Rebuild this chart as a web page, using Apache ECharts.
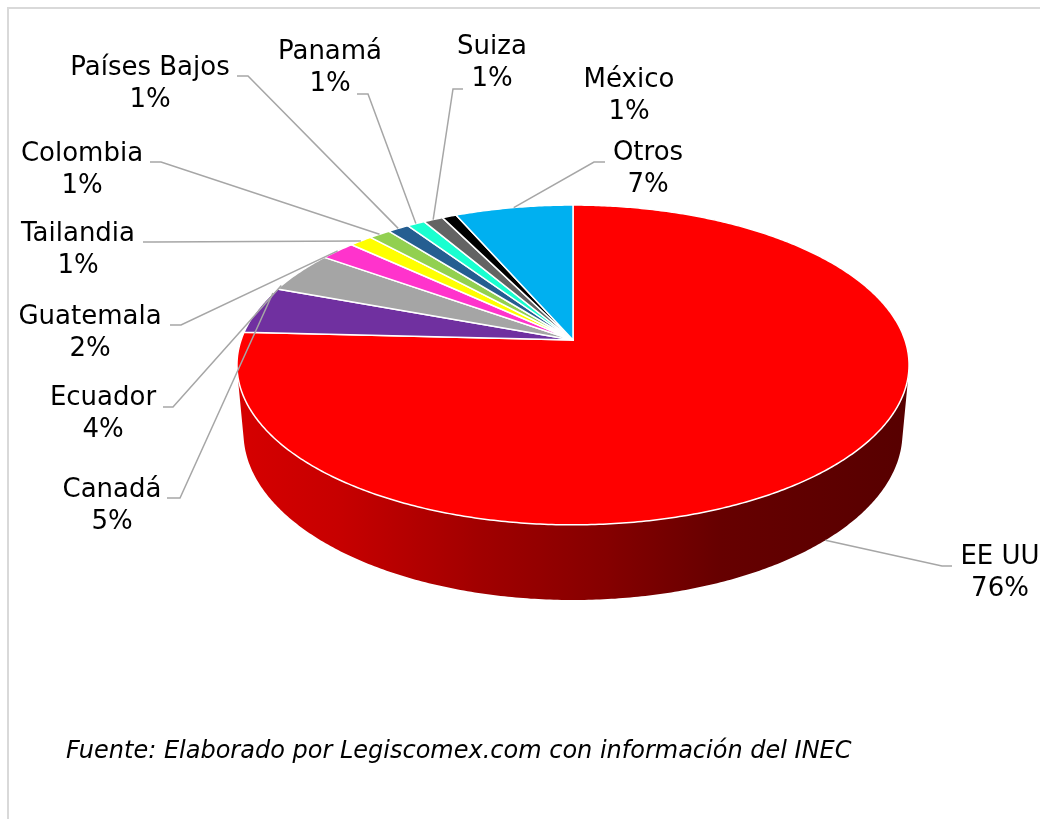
<!DOCTYPE html>
<html><head><meta charset="utf-8">
<script src="https://cdn.jsdelivr.net/npm/echarts@6/dist/echarts.min.js"></script>
<style>html,body{margin:0;padding:0;background:#fff}#c{width:1040px;height:819px}</style>
</head><body><div id="c"></div>
<script>
// ---- data ----
const categories = ['EE UU','Canadá','Ecuador','Guatemala','Tailandia','Colombia','Países Bajos','Panamá','Suiza','México','Otros'];
const values = [75.8, 4.8, 4.2, 2.0, 1.3, 1.2, 1.2, 1.0, 1.1, 0.8, 6.6];
const colors = ['#FF0000','#7030A0','#A5A5A5','#FF33CC','#FFFF00','#92D050','#255E91','#1AFFD0','#636363','#000000','#00B0F0'];
const footnote = 'Fuente: Elaborado por Legiscomex.com con información del INEC';

// ---- label layout (text centre x, first-line centre y, leader start, elbow dx, anchor fraction) ----
const labelLayout = [
  {x:1000, y:557, lead:[952,566], dx:-10, f:0.5, wall:true},
  {x:112, y:490, lead:[167,498], dx:13, f:0.9},
  {x:103, y:398, lead:[163,407], dx:10, f:0.1},
  {x:90,  y:317, lead:[170,325], dx:11, f:0.5},
  {x:78,  y:234, lead:[143,242], dx:11, f:0.5},
  {x:82,  y:154, lead:[150,162], dx:11, f:0.5},
  {x:150, y:68,  lead:[237,76],  dx:11, f:0.5},
  {x:330, y:52,  lead:[357,94],  dx:11, f:0.5},
  {x:492, y:47,  lead:[463,89],  dx:-10, f:0.5},
  {x:629, y:80,  lead:null},
  {x:648, y:153, lead:[605,162], dx:-11, f:0.5}
];

// ---- 3D projection settings ----
const P = {cx:573, cy:340, F:1878, D:5.658, sa:0.47, ca:0.8826, h:0.2338};
function proj(theta, Y){
  const X = Math.sin(theta), Z = Math.cos(theta);
  const d = P.D + Z*P.ca - Y*P.sa;
  return [P.cx + P.F*X/d, P.cy - P.F*(Z*P.sa + Y*P.ca)/d];
}
const total = values.reduce((a,b)=>a+b,0);
const starts = []; {let acc=0; values.forEach(v=>{starts.push(acc/total*2*Math.PI); acc+=v;});}
const visA = Math.acos(-1/(P.D*P.ca)), visB = 2*Math.PI - visA;

function darken(hex, k){
  const n = parseInt(hex.slice(1),16);
  const r=Math.round(((n>>16)&255)*k), g=Math.round(((n>>8)&255)*k), b=Math.round((n&255)*k);
  return 'rgb('+r+','+g+','+b+')';
}
function arc(a0, a1, Y){
  const pts=[]; const n=Math.max(2, Math.ceil((a1-a0)/0.01));
  for(let i=0;i<=n;i++){ pts.push(proj(a0+(a1-a0)*i/n, Y)); }
  return pts;
}

const chart = echarts.init(document.getElementById('c'), null, {renderer:'canvas'});
const seriesData = values.map((v,i)=>({name:categories[i], value:[v]}));

function span(i, api){
  const a0 = starts[i];
  const a1 = a0 + api.value(0)/total*2*Math.PI;
  return [a0,a1];
}

const option = {
  backgroundColor:'#fff',
  animation:false,
  graphic:[
    {type:'rect', shape:{x:8,y:8,width:1200,height:1000}, style:{fill:'none', stroke:'#d9d9d9', lineWidth:2}, silent:true},
    {type:'text', x:66, y:752, style:{text:footnote, font:'italic 24px "DejaVu Sans"', fill:'#000', verticalAlign:'middle', align:'left'}, silent:true}
  ],
  series:[
    { // side walls
      type:'custom', coordinateSystem:'none', silent:true, z:1, data:seriesData,
      renderItem:function(params, api){
        const i=params.dataIndex; const [a0,a1]=span(i,api);
        const s=Math.max(a0,visA), e=Math.min(a1,visB);
        if(e<=s) return {type:'group', children:[]};
        const top=arc(s,e,0), bot=arc(s,e,-P.h).reverse();
        const c=colors[i];
        return {type:'polygon', shape:{points:top.concat(bot)},
          style:{fill:new echarts.graphic.LinearGradient(0,0,1,0,[
            {offset:0,color:darken(c,0.84)},{offset:0.15,color:darken(c,0.78)},
            {offset:0.36,color:darken(c,0.63)},{offset:0.55,color:darken(c,0.52)},
            {offset:0.72,color:darken(c,0.40)},{offset:1,color:darken(c,0.34)}]),
            stroke:null}};
      }
    },
    { // top faces
      type:'custom', coordinateSystem:'none', silent:true, z:2, data:seriesData,
      renderItem:function(params, api){
        const i=params.dataIndex; const [a0,a1]=span(i,api);
        const pts=[[P.cx,P.cy]].concat(arc(a0,a1,0));
        return {type:'polygon', shape:{points:pts},
          style:{fill:colors[i], stroke:'#ffffff', lineWidth:1.5, lineJoin:'round'}};
      }
    },
    { // labels + leader lines
      type:'custom', coordinateSystem:'none', silent:true, z:3, data:seriesData,
      renderItem:function(params, api){
        const i=params.dataIndex; const [a0,a1]=span(i,api); const L=labelLayout[i];
        const children=[];
        if(L.lead){
          const ang=a0+(a1-a0)*L.f;
          const anchor=proj(ang, L.wall? -P.h : 0);
          children.push({type:'polyline', shape:{points:[L.lead,[L.lead[0]+L.dx,L.lead[1]],anchor]},
            style:{stroke:'#a6a6a6', lineWidth:1.5, fill:null}});
        }
        children.push({type:'text', x:L.x, y:L.y-16, style:{
          text:categories[i]+'\n'+Math.round(api.value(0))+'%',
          font:'26px "DejaVu Sans"', fill:'#000', align:'center', verticalAlign:'top', lineHeight:32}});
        return {type:'group', children:children};
      }
    }
  ]
};
chart.setOption(option);
</script></body></html>
